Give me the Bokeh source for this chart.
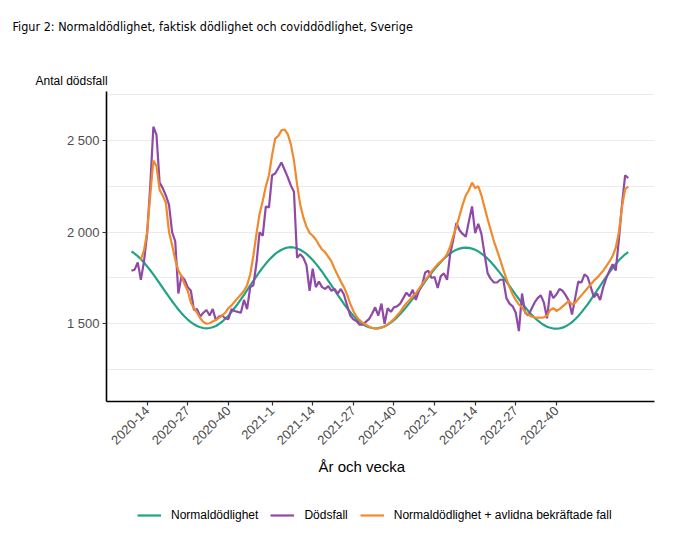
import math
import numpy as np
from bokeh.plotting import figure
from bokeh.layouts import column
from bokeh.models import FixedTicker, Range1d, Title, Legend, LegendItem, ColumnDataSource
from bokeh.embed import file_html
from bokeh.resources import INLINE

# ---------------- data ----------------
title_text = "Figur 2: Normaldödlighet, faktisk dödlighet och coviddödlighet, Sverige"
y_title = "Antal dödsfall"
x_title = "År och vecka"
series_names = ["Normaldödlighet", "Dödsfall", "Normaldödlighet + avlidna bekräftade fall"]

start_year, start_week = 2020, 9
weeks_in_year = {2020: 53, 2021: 52, 2022: 52, 2023: 52}

normal = [
    1895, 1882, 1869, 1852, 1834, 1813, 1792, 1769, 1745, 1721,
    1696, 1671, 1647, 1623, 1600, 1578, 1558, 1540, 1523, 1509,
    1497, 1488, 1481, 1477, 1475, 1477, 1481, 1488, 1499, 1511,
    1527, 1544, 1564, 1586, 1608, 1633, 1658, 1683, 1709, 1734,
    1759, 1784, 1806, 1828, 1848, 1865, 1881, 1893, 1904, 1911,
    1916, 1918, 1916, 1911, 1904, 1893, 1881, 1865, 1848, 1828,
    1806, 1784, 1759, 1734, 1709, 1683, 1658, 1633, 1608, 1586,
    1564, 1544, 1527, 1511, 1499, 1488, 1481, 1477, 1475, 1476,
    1480, 1486, 1495, 1506, 1520, 1535, 1553, 1572, 1592, 1614,
    1636, 1659, 1683, 1707, 1731, 1754, 1776, 1798, 1818, 1837,
    1855, 1870, 1884, 1895, 1904, 1910, 1914, 1915, 1914, 1910,
    1904, 1895, 1883, 1870, 1855, 1837, 1818, 1797, 1776, 1753,
    1730, 1706, 1682, 1658, 1635, 1612, 1591, 1570, 1551, 1533,
    1518, 1505, 1493, 1484, 1478, 1474, 1473, 1475, 1479, 1486,
    1497, 1509, 1525, 1542, 1562, 1584, 1606, 1631, 1656, 1681,
    1707, 1732, 1757, 1782, 1804, 1826, 1846, 1863, 1879, 1891,
]

deaths = [
    1790, 1795, 1835, 1740, 1840, 1990, 2250, 2575, 2530, 2270,
    2240, 2200, 2150, 2000, 1950, 1665, 1760, 1740, 1700, 1680,
    1575, 1580, 1540, 1560, 1575, 1545, 1580, 1520, 1540, 1545,
    1530, 1525, 1580, 1570, 1565, 1560, 1630, 1580, 1700, 1710,
    1830, 2000, 1980, 2140, 2135, 2310, 2320, 2350, 2380, 2340,
    2300, 2255, 2220, 1860, 1880, 1860, 1820, 1680, 1800, 1700,
    1730, 1700, 1690, 1705, 1680, 1690, 1665, 1690, 1660, 1600,
    1545, 1525, 1515, 1495, 1495, 1510, 1525, 1555, 1590, 1545,
    1610, 1500, 1585, 1565, 1590, 1595, 1610, 1640, 1670, 1650,
    1685, 1630, 1680, 1710, 1780, 1790, 1750, 1755, 1695, 1760,
    1775, 1740, 1880, 1960, 2050, 2010, 1990, 1975, 2060, 2140,
    1995, 2045, 1990, 1880, 1775, 1745, 1725, 1725, 1740, 1740,
    1640, 1610, 1595, 1560, 1460, 1665, 1560, 1545, 1580, 1615,
    1640, 1655, 1615, 1530, 1680, 1640, 1660, 1690, 1680, 1655,
    1625, 1550, 1640, 1730, 1725, 1770, 1755, 1700, 1645, 1665,
    1630, 1700, 1750, 1790, 1825, 1790, 1960, 2150, 2310, 2295,
]

normal_plus_covid = [
    None, None, None, 1850, 1900, 2000, 2200, 2390, 2360, 2230,
    2200, 2160, 2000, 1930, 1850, 1790, 1760, 1715, 1680, 1615,
    1585, 1560, 1530, 1510, 1500, 1503, 1512, 1520, 1532, 1545,
    1560, 1585, 1600, 1620, 1640, 1660, 1680, 1710, 1770, 1870,
    1990, 2100, 2170, 2250, 2310, 2420, 2510, 2525, 2555, 2560,
    2535, 2480, 2390, 2260, 2150, 2080, 2030, 1995, 1980, 1960,
    1930, 1905, 1890, 1865, 1840, 1800, 1765, 1730, 1700, 1660,
    1610, 1570, 1540, 1520, 1505, 1495, 1485, 1478, 1475, 1474,
    1478, 1485, 1497, 1510, 1525, 1545, 1565, 1590, 1612, 1630,
    1650, 1665, 1690, 1715, 1740, 1760, 1785, 1805, 1825, 1840,
    1855, 1880, 1920, 1980, 2030, 2090, 2150, 2200, 2230, 2270,
    2240, 2250, 2200, 2135, 2070, 2010, 1950, 1900, 1850, 1795,
    1745, 1700, 1660, 1630, 1605, 1590, 1565, 1550, 1540, 1535,
    1533, 1533, 1535, 1545, 1575, 1585, 1570, 1580, 1595, 1610,
    1625, 1605, 1615, 1635, 1655, 1675, 1695, 1715, 1735, 1750,
    1770, 1790, 1815, 1840, 1870, 1915, 2000, 2140, 2235, 2248,
]

x_tick_labels = ["2020-14", "2020-27", "2020-40", "2021-1", "2021-14", "2021-27",
                 "2021-40", "2022-1", "2022-14", "2022-27", "2022-40"]
y_ticks = [1500, 2000, 2500]
y_tick_labels = ["1 500", "2 000", "2 500"]
y_minor = [1250, 1750, 2250, 2750]

colors = ["#22a387", "#8e4aa6", "#f08a2c"]
line_width = 2.2

# week labels for each data point
week_labels = []
yy, ww = start_year, start_week
for _ in range(len(deaths)):
    week_labels.append(f"{yy}-{ww}")
    ww += 1
    if ww > weeks_in_year[yy]:
        yy += 1
        ww = 1
xs = list(range(len(deaths)))
tick_pos = [week_labels.index(t) for t in x_tick_labels]

src = ColumnDataSource(dict(
    x=xs,
    normal=normal,
    deaths=deaths,
    npc=np.array([np.nan if v is None else v for v in normal_plus_covid], dtype=float),
))
cols = ["normal", "deaths", "npc"]


def blank_strip(height):
    f = figure(width=672, height=height, output_backend="svg", toolbar_location=None,
               x_range=Range1d(0, 1), y_range=Range1d(0, 1),
               x_axis_location=None, y_axis_location=None,
               min_border_left=106, min_border_right=18, min_border_top=0, min_border_bottom=0)
    f.outline_line_color = None
    f.grid.visible = False
    return f


# ---------------- title strip ----------------
pt = blank_strip(60)
pt.add_layout(Title(text=title_text, align="left", offset=-94, text_font="DejaVu Sans Condensed",
                    text_font_size="12.5px", text_font_style="normal", text_color="black",
                    standoff=33), "above")

# ---------------- main figure ----------------
p = figure(width=672, height=430, output_backend="svg", toolbar_location=None,
           x_range=Range1d(-8.0, 167.4), y_range=Range1d(1076, 2767),
           min_border_left=106, min_border_right=18, min_border_top=31, min_border_bottom=89)
p.outline_line_color = None
p.background_fill_color = "white"
p.border_fill_color = "white"

for c, col in zip(colors, cols):
    p.line("x", col, source=src, line_color=c, line_width=line_width)

p.xaxis.ticker = FixedTicker(ticks=tick_pos)
p.xaxis.major_label_overrides = {pos: lab for pos, lab in zip(tick_pos, x_tick_labels)}
p.xaxis.major_label_orientation = math.pi / 4
p.yaxis.ticker = FixedTicker(ticks=y_ticks, minor_ticks=y_minor)
p.yaxis.major_label_overrides = {t: lab for t, lab in zip(y_ticks, y_tick_labels)}
for ax in (p.xaxis, p.yaxis):
    ax.axis_line_color = "black"
    ax.axis_line_width = 1.6
    ax.major_tick_line_color = "#333333"
    ax.major_tick_line_width = 1.2
    ax.major_tick_out = 4
    ax.major_tick_in = 0
    ax.minor_tick_line_color = None
    ax.major_label_text_font = "Liberation Sans"
    ax.major_label_text_font_size = "13px"
    ax.major_label_text_color = "#4d4d4d"
    ax.major_label_standoff = 3

p.xgrid.grid_line_color = None
p.ygrid.grid_line_color = "#ebebeb"
p.ygrid.grid_line_width = 1.2
p.ygrid.minor_grid_line_color = "#ebebeb"
p.ygrid.minor_grid_line_width = 1.0

p.add_layout(Title(text=y_title, align="left", offset=-71, text_font="Liberation Sans",
                   text_font_size="12px", text_font_style="normal", text_color="black",
                   standoff=8), "above")
p.add_layout(Title(text=x_title, align="left", offset=212, text_font="Liberation Sans",
                   text_font_size="15px", text_font_style="normal", text_color="black",
                   standoff=8), "below")

# ---------------- legend strip ----------------
pl = blank_strip(40)
lr = [pl.line("x", col, source=src, line_color=c, line_width=line_width)
      for c, col in zip(colors, cols)]
legend = Legend(items=[LegendItem(label=n, renderers=[r]) for n, r in zip(series_names, lr)],
                orientation="horizontal", location=(31, 8))
legend.label_text_font = "Liberation Sans"
legend.label_text_font_size = "12px"
legend.label_text_color = "black"
legend.glyph_width = 24
legend.glyph_height = 14
legend.label_standoff = 10
legend.spacing = 12
legend.border_line_color = None
legend.background_fill_alpha = 0
legend.margin = 0
legend.padding = 0
pl.add_layout(legend)

layout = column(pt, p, pl, spacing=0)
open("out.html", "w").write(file_html(layout, INLINE))
